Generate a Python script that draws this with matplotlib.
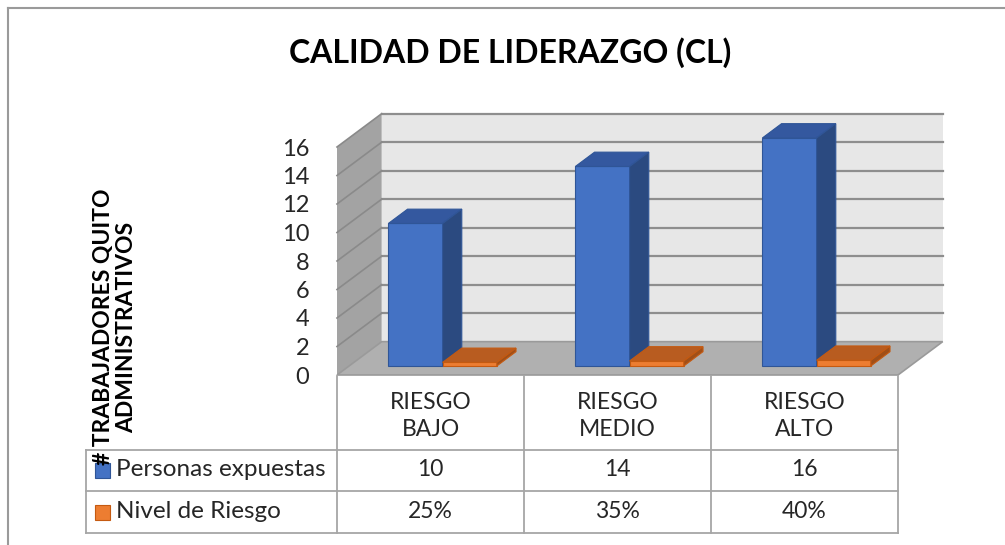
import matplotlib
matplotlib.use("Agg")
import matplotlib.pyplot as plt
from matplotlib.patches import Polygon, Rectangle
from matplotlib.lines import Line2D
from matplotlib.transforms import blended_transform_factory

# ---------------- data ----------------
title = "CALIDAD DE LIDERAZGO (CL)"
ylabel = "# TRABAJADORES QUITO\nADMINISTRATIVOS"
categories = ["RIESGO\nBAJO", "RIESGO\nMEDIO", "RIESGO\nALTO"]
series_names = ["Personas expuestas", "Nivel de Riesgo"]
personas = [10, 14, 16]
nivel = [0.25, 0.35, 0.40]
nivel_labels = ["25%", "35%", "40%"]
personas_labels = ["10", "14", "16"]
yticks = [0, 2, 4, 6, 8, 10, 12, 14, 16]

# ---------------- style ----------------
plt.rcParams["font.family"] = ["Lato", "DejaVu Sans"]
W, H = 1005, 545
fig = plt.figure(figsize=(W / 100, H / 100), dpi=100)
fig.patch.set_facecolor("white")


def fpx(x0, y0, x1, y1):
    return [x0 / W, 1 - y1 / H, (x1 - x0) / W, (y1 - y0) / H]


ax = fig.add_axes(fpx(337, 147, 898, 375))
ax.set_xlim(0, len(categories))
ax.set_ylim(0, 16)
ax.patch.set_visible(False)
for s in ax.spines.values():
    s.set_visible(False)
ax.set_xticks([])
ax.set_yticks(yticks)
ax.set_yticklabels([str(v) for v in yticks], fontsize=17, color="#262626")
ax.tick_params(axis="y", length=0, pad=20)

# oblique depth offsets in data units (full depth)
DX, DY = 0.239, 2.34


def P(x, y, z):
    return (x + z * DX, y + z * DY)


n = len(categories)
ymax = yticks[-1]
# walls and floor
back = Polygon([P(0, 0, 1), P(n, 0, 1), P(n, ymax, 1), P(0, ymax, 1)],
               closed=True, fc="#E7E7E7", ec="none", clip_on=False, zorder=1)
left = Polygon([P(0, 0, 0), P(0, 0, 1), P(0, ymax, 1), P(0, ymax, 0)],
               closed=True, fc="#A3A3A3", ec="none", clip_on=False, zorder=1)
floor = Polygon([P(0, 0, 0), P(n, 0, 0), P(n, 0, 1), P(0, 0, 1)],
                closed=True, fc="#B0B0B0", ec="#9A9A9A", lw=1.2, clip_on=False, zorder=1.2)
for p in (back, left, floor):
    ax.add_patch(p)

for v in yticks[1:]:
    xs, ys = zip(P(0, v, 1), P(n, v, 1))
    ax.plot(xs, ys, color="#8E8E8E", lw=1.6, clip_on=False, zorder=1.5)
    xs, ys = zip(P(0, v, 0), P(0, v, 1))
    ax.plot(xs, ys, color="#8A8A8A", lw=1.2, clip_on=False, zorder=1.5)

# bars
bw = 0.29
z0, z1 = 0.27, 0.70
series = [personas, nivel]
colors = [("#4472C4", "#34589F", "#2B4A80", "#2F5597"),
          ("#ED7D31", "#B85C20", "#A04F18", "#C55A11")]
for i in range(n):
    for k, (vals, (cf, ct, cs, ce)) in enumerate(zip(series, colors)):
        x0 = i + 0.5 - bw + k * bw
        x1 = x0 + bw
        v = vals[i]
        ax.bar(x0 + z0 * DX, v, width=bw, bottom=z0 * DY, align="edge",
               color=cf, edgecolor=ce, lw=0.8, clip_on=False, zorder=3 + i + 0.1 * k)
        top = Polygon([P(x0, v, z0), P(x1, v, z0), P(x1, v, z1), P(x0, v, z1)],
                      closed=True, fc=ct, ec=ce, lw=0.8, clip_on=False, zorder=3 + i + 0.1 * k)
        side = Polygon([P(x1, 0, z0), P(x1, v, z0), P(x1, v, z1), P(x1, 0, z1)],
                       closed=True, fc=cs, ec=ce, lw=0.8, clip_on=False, zorder=3 + i + 0.1 * k)
        ax.add_patch(top)
        ax.add_patch(side)

# ---------------- data table ----------------
bt = blended_transform_factory(ax.transData, fig.transFigure)
ft = fig.transFigure
lc = "#A6A6A6"


def fy(ypx):
    return 1 - ypx / H


def fx(xpx):
    return xpx / W


for c in range(n + 1):
    fig.add_artist(Line2D([c, c], [fy(376), fy(533)], transform=bt, color=lc, lw=1.3))
for ypx in (450, 491, 533):
    x_right = ax.transData.transform((n, 0))[0] / W
    fig.add_artist(Line2D([fx(86), x_right], [fy(ypx), fy(ypx)], transform=ft, color=lc, lw=1.3))
fig.add_artist(Line2D([fx(86), fx(86)], [fy(450), fy(533)], transform=ft, color=lc, lw=1.3))

for i, cat in enumerate(categories):
    fig.text(i + 0.5, fy(416), cat, transform=bt, ha="center", va="center",
             fontsize=16.5, color="#262626", linespacing=1.4)
    fig.text(i + 0.5, fy(470), personas_labels[i], transform=bt, ha="center", va="center",
             fontsize=16.5, color="#262626")
    fig.text(i + 0.5, fy(512), nivel_labels[i], transform=bt, ha="center", va="center",
             fontsize=16.5, color="#262626")

row_y = [470, 512]
for k, name in enumerate(series_names):
    fig.add_artist(Rectangle((fx(95), fy(row_y[k] + 7.5)), 15 / W, 15 / H, transform=ft,
                             fc=colors[k][0], ec=colors[k][3], lw=0.8))
    fig.text(fx(116), fy(row_y[k]), name, ha="left", va="center", fontsize=17.5, color="#262626")

# ---------------- labels / frame ----------------
fig.text(fx(510), fy(53), title, ha="center", va="center", fontsize=23,
         fontweight="bold", color="#000000")
fig.text(fx(115), fy(327), ylabel, ha="center", va="center", rotation=90,
         fontsize=16.5, fontweight="bold", color="#000000", linespacing=1.1)

fig.add_artist(Line2D([fx(8), 1], [fy(8), fy(8)], transform=ft, color="#9A9A9A", lw=1.5))
fig.add_artist(Line2D([fx(8), fx(8)], [fy(8), 0], transform=ft, color="#9A9A9A", lw=1.5))

fig.savefig("out.png", dpi=100, facecolor="white")
